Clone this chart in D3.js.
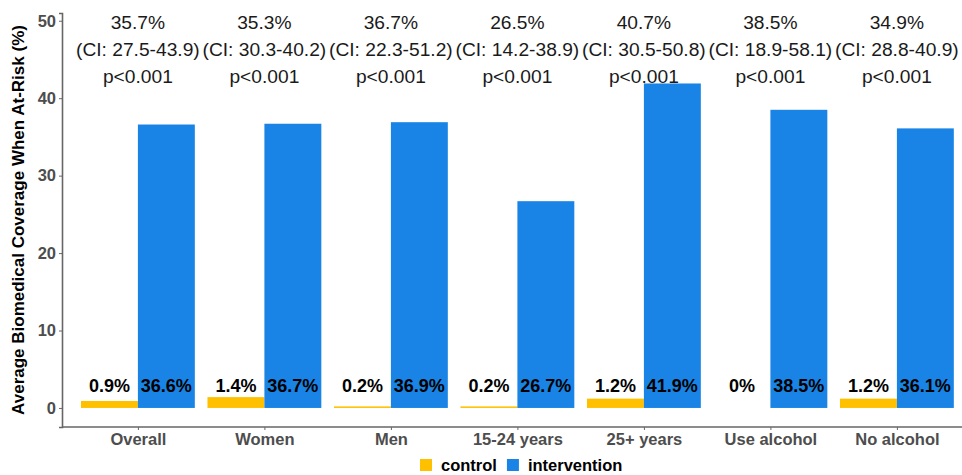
<!DOCTYPE html>
<html>
<head>
<meta charset="utf-8">
<script src="https://cdn.jsdelivr.net/npm/d3@7"></script>
<style>
  html, body { margin: 0; padding: 0; background: #fff; }
  svg { display: block; font-family: "Liberation Sans", Arial, Helvetica, sans-serif; }
</style>
</head>
<body>
<svg id="chart" width="962" height="475"></svg>
<script>
// Groups shown along the x axis
const categories = ["Overall", "Women", "Men", "15-24 years", "25+ years", "Use alcohol", "No alcohol"];
// Arms of the trial
const groups = ["control", "intervention"];
// Average biomedical coverage (%) per arm
const controlValues = [0.9, 1.4, 0.2, 0.2, 1.2, 0, 1.2];
const interventionValues = [36.6, 36.7, 36.9, 26.7, 41.9, 38.5, 36.1];
// Difference between arms, confidence intervals and p-values
const diffLabels = ["35.7%", "35.3%", "36.7%", "26.5%", "40.7%", "38.5%", "34.9%"];
const ciLabels = ["(CI: 27.5-43.9)", "(CI: 30.3-40.2)", "(CI: 22.3-51.2)", "(CI: 14.2-38.9)", "(CI: 30.5-50.8)", "(CI: 18.9-58.1)", "(CI: 28.8-40.9)"];
const pLabels = ["p<0.001", "p<0.001", "p<0.001", "p<0.001", "p<0.001", "p<0.001", "p<0.001"];
const yTicks = [0, 10, 20, 30, 40, 50];

const colors = { control: "#FFC000", intervention: "#1984E5" };

const svg = d3.select("#chart");
const margin = { top: 13, right: 0, bottom: 48, left: 62 };
const W = 962, H = 475;
const plotBottom = H - margin.bottom;

const y = d3.scaleLinear().domain([-2.46, 51.0]).range([plotBottom, margin.top]);

// discrete axis: one band per category, first band starting a little right of the y axis
const step = 126.5;
const x = d3.scaleBand()
  .domain(categories)
  .range([margin.left + 0.1 * step, margin.left + 0.1 * step + step * categories.length])
  .paddingInner(0)
  .paddingOuter(0);
const xc = c => x(c) + x.bandwidth() / 2; // center of band
const dodge = d3.scaleBand().domain(groups).range([-0.45 * step, 0.45 * step]);

const data = categories.map((c, i) => ({
  cat: c,
  control: controlValues[i],
  intervention: interventionValues[i],
  diff: diffLabels[i], ci: ciLabels[i], p: pLabels[i]
}));

// bars
const g = svg.append("g");
data.forEach(d => {
  groups.forEach(k => {
    const x0 = xc(d.cat) + dodge(k);
    g.append("rect")
      .attr("x", x0)
      .attr("width", dodge.bandwidth())
      .attr("y", y(Math.max(d[k], 0)))
      .attr("height", Math.abs(y(0) - y(d[k])))
      .attr("fill", colors[k]);
    g.append("text")
      .attr("x", x0 + dodge.bandwidth() / 2)
      .attr("y", y(2.0))
      .attr("text-anchor", "middle")
      .attr("font-size", 18)
      .attr("font-weight", "bold")
      .attr("fill", "#000")
      .text(d3.format(".1~f")(d[k]) + "%");
  });
  // annotation above each group
  const cx = xc(d.cat);
  [[d.diff, y(48.9)], [d.ci, y(45.45)], [d.p, y(41.95)]].forEach(([t, yy]) => {
    g.append("text")
      .attr("x", cx)
      .attr("y", yy)
      .attr("text-anchor", "middle")
      .attr("font-size", 19.2)
      .attr("fill", "#1a1a1a")
      .text(t);
  });
});

// y axis
const yAxis = svg.append("g")
  .attr("transform", `translate(${margin.left},0)`)
  .call(d3.axisLeft(y).tickValues(yTicks).tickSize(3).tickPadding(3));
yAxis.select(".domain").attr("stroke", "#666").attr("stroke-width", 1.6);
yAxis.selectAll(".tick line").attr("stroke", "#666");
yAxis.selectAll(".tick text")
  .attr("font-size", 16.5).attr("font-weight", "bold").attr("fill", "#4d4d4d")
  .attr("font-family", "Liberation Sans, Arial, sans-serif");

// x axis
const xAxisScale = d3.scalePoint().domain(categories)
  .range([xc(categories[0]), xc(categories[categories.length - 1])]);
const xAxis = svg.append("g")
  .attr("transform", `translate(0,${plotBottom})`)
  .call(d3.axisBottom(xAxisScale).tickSize(3).tickPadding(3));
xAxis.select(".domain").attr("d", `M${margin.left},0H${W}`).attr("stroke", "#666").attr("stroke-width", 1.6);
xAxis.selectAll(".tick line").attr("stroke", "#666");
xAxis.selectAll(".tick text")
  .attr("font-size", 16.5).attr("font-weight", "bold").attr("fill", "#4d4d4d")
  .attr("font-family", "Liberation Sans, Arial, sans-serif");

// y axis title
svg.append("text")
  .attr("transform", `translate(24,${(margin.top + plotBottom) / 2}) rotate(-90)`)
  .attr("text-anchor", "middle")
  .attr("font-size", 17)
  .attr("font-weight", "bold")
  .attr("fill", "#000")
  .text("Average Biomedical Coverage When At-Risk (%)");

// legend
const legend = svg.append("g").attr("transform", "translate(420,459)");
let lx = 0;
groups.forEach(k => {
  legend.append("rect").attr("x", lx).attr("y", 0).attr("width", 12).attr("height", 12).attr("fill", colors[k]);
  const t = legend.append("text")
    .attr("x", lx + 21).attr("y", 12)
    .attr("font-size", 16.5).attr("font-weight", "bold").attr("fill", "#000")
    .text(k);
  lx += 21 + t.node().getComputedTextLength() + 10;
});
</script>
</body>
</html>
